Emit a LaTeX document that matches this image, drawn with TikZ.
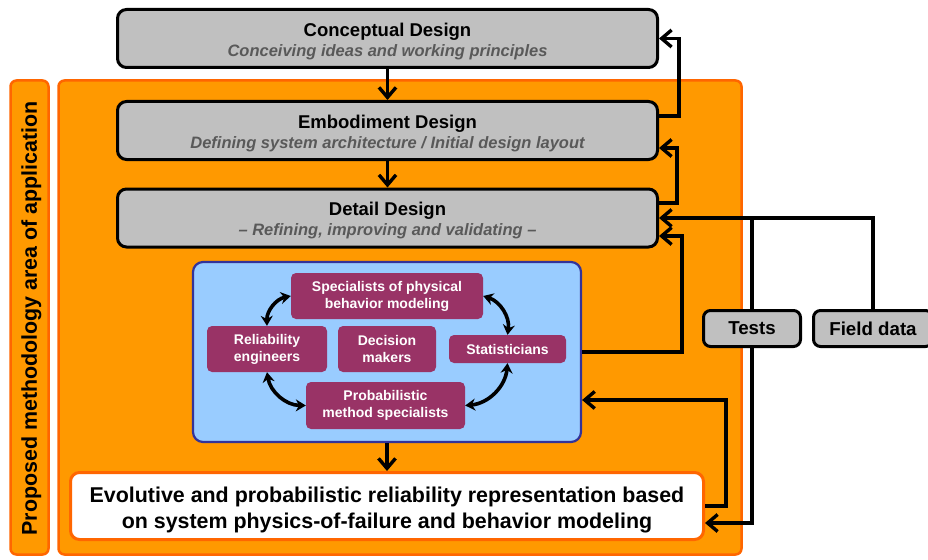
\documentclass[tikz,border=0pt]{standalone}
\usepackage{fontspec}
\setmainfont{Liberation Sans}
\usetikzlibrary{arrows.meta}
\definecolor{boxgray}{HTML}{C0C0C0}
\definecolor{areafill}{HTML}{FF9900}
\definecolor{arealine}{HTML}{FF6600}
\definecolor{teamfill}{HTML}{99CCFF}
\definecolor{teamline}{HTML}{333399}
\definecolor{actorfill}{HTML}{993366}
\definecolor{subgray}{HTML}{595959}
\newcommand\phasetext[2]{\rule{0pt}{19pt}#1\\{\fontsize{16.5}{19.7}\selectfont\itshape\color{subgray}#2}}
\begin{document}
\begin{tikzpicture}[x=1pt,y=-1pt,
    area/.style={rectangle,rounded corners=6pt,draw=arealine,fill=areafill,line width=2.5pt},
    phase/.style={rectangle,rounded corners=9pt,draw,fill=boxgray,line width=3pt,minimum width=540pt,minimum height=58pt,inner sep=0pt,align=center,font=\bfseries\fontsize{18.5}{19.7}\selectfont},
    datasrc/.style={rectangle,rounded corners=7pt,draw,fill=boxgray,line width=3pt,minimum height=36pt,inner sep=0pt,font=\bfseries\fontsize{18.7}{22}\selectfont},
    actor/.style={rectangle,rounded corners=5pt,fill=actorfill,text=white,inner sep=0pt,align=center,font=\bfseries\fontsize{14}{17}\selectfont},
    flowarrow/.style={line width=3.4pt,-{Straight Barb[length=10pt,width=17pt]}},
    plainline/.style={line width=3.4pt},
    teamarrow/.style={line width=3.6pt,{Stealth[length=10pt,width=12pt]}-{Stealth[length=10pt,width=12pt]}}]
  \useasboundingbox (0,0) rectangle (928,559);
  \node[area,minimum width=38pt,minimum height=474pt] (strip) at (29.5,317.5) {};
  \node[rotate=90,font=\bfseries\fontsize{21.4}{26}\selectfont] (striptext) at (31.5,318.5) {Proposed methodology area of application};
  \node[area,minimum width=683pt,minimum height=474pt] (domain) at (400,317.5) {};
  \node[phase] (concept) at (387.5,38.5) {\phasetext{Conceptual Design}{Conceiving ideas and working principles}};
  \node[phase] (embody) at (387.5,130.5) {\phasetext{Embodiment Design}{Defining system architecture / Initial design layout}};
  \node[phase] (detail) at (387.5,218) {\phasetext{Detail Design}{-- Refining, improving and validating --}};
  \node[rectangle,rounded corners=10pt,draw=teamline,fill=teamfill,line width=2.2pt,minimum width=388pt,minimum height=180pt] (team) at (387,352) {};
  \node[actor,minimum width=192pt,minimum height=46pt] (spec) at (387,296) {Specialists of physical\\behavior modeling};
  \node[actor,minimum width=120pt,minimum height=46pt] (relia) at (267,349) {Reliability\\engineers};
  \node[actor,minimum width=98pt,minimum height=46pt] (decis) at (387,349) {Decision\\makers};
  \node[actor,minimum width=117pt,minimum height=28pt] (stat) at (507.5,349) {Statisticians};
  \node[actor,minimum width=159pt,minimum height=47pt] (prob) at (385.5,405.5) {Probabilistic\\method specialists};
  \node[rectangle,rounded corners=9pt,draw=arealine,fill=white,line width=3pt,minimum width=633pt,minimum height=67pt,inner sep=0pt,align=center,font=\bfseries\fontsize{21.4}{26}\selectfont] (result) at (387,506) {\rule{0pt}{22.6pt}Evolutive and probabilistic reliability representation based\\on system physics-of-failure and behavior modeling};
  \node[datasrc,minimum width=97pt] (tests) at (752,328.5) {Tests};
  \node[datasrc,minimum width=119pt] (field) at (873,328.5) {Field data};
  \draw[flowarrow] (concept) -- (embody);
  \draw[flowarrow] (embody) -- (detail);
  \draw[flowarrow] (team) -- (result);
  \draw[flowarrow] ([yshift=14.5pt]embody.east) -- ++(20,0) |- (concept.east);
  \draw[flowarrow] ([yshift=15pt]detail.east) -- ++(18,0) |- ([yshift=-17.5pt]embody.east);
  \draw[flowarrow] (field.north) |- (detail.east);
  \draw[plainline] (tests.north) -- (tests.north |- detail.east);
  \draw[flowarrow] (team.east) -- ++(100,0) |- ([yshift=-18pt]detail.east);
  \draw[flowarrow] (result.east) -- ++(21,0) |- ([yshift=-48pt]team.east);
  \draw[flowarrow] (tests.south) |- ([yshift=-17pt]result.east);
  \draw[teamarrow] (spec.west) to[bend right=40] (relia.north);
  \draw[teamarrow] (spec.east) to[bend left=40] (stat.north);
  \draw[teamarrow] (stat.south) to[bend left=40] (prob.east);
  \draw[teamarrow] (prob.west) to[bend left=40] (relia.south);
\end{tikzpicture}
\end{document}
